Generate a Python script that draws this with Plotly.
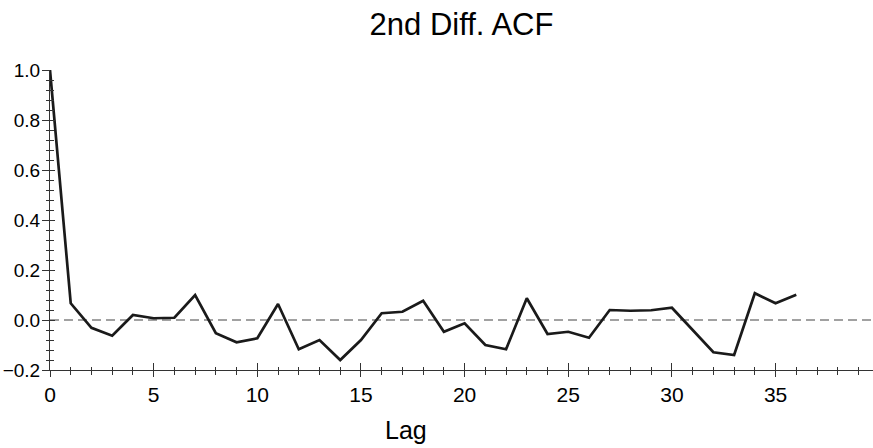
import plotly.graph_objects as go

# Autocorrelation of the twice-differenced series, lags 0..36
lags = list(range(37))
acf = [1.0, 0.067, -0.031, -0.063, 0.020, 0.007, 0.009, 0.100, -0.053, -0.089,
       -0.073, 0.064, -0.117, -0.080, -0.160, -0.080, 0.027, 0.033, 0.077, -0.047,
       -0.013, -0.100, -0.117, 0.087, -0.056, -0.047, -0.071, 0.040, 0.037, 0.039,
       0.049, -0.040, -0.129, -0.140, 0.107, 0.067, 0.101]

title_text = "2nd Diff. ACF"
x_title = "Lag"
x_range = [0, 39.7]
y_range = [-0.2, 1.0]

FONT = "Liberation Sans, Arial, sans-serif"
AXIS_COLOR = "#333333"

fig = go.Figure()

fig.add_trace(go.Scatter(
    x=lags, y=acf, mode="lines",
    line=dict(color="#1a1a1a", width=2.7),
    hoverinfo="x+y", showlegend=False,
))

# invisible companion trace so the overlaid axes (inner tick halves) render
fig.add_trace(go.Scatter(
    x=lags, y=acf, mode="lines", xaxis="x2", yaxis="y2",
    line=dict(width=0), opacity=0, hoverinfo="skip", showlegend=False,
))

# dashed zero reference line
fig.add_shape(type="line", xref="paper", x0=0, x1=1, yref="y", y0=0, y1=0,
              line=dict(color="#444444", width=1.2, dash="9px,5px"), layer="below")

common_x = dict(range=x_range, showgrid=False, zeroline=False,
                showline=True, linecolor=AXIS_COLOR, linewidth=1,
                tickcolor=AXIS_COLOR, tickwidth=1, tick0=0, dtick=5)
common_y = dict(range=y_range, showgrid=False, zeroline=False,
                showline=True, linecolor=AXIS_COLOR, linewidth=1,
                tickcolor=AXIS_COLOR, tickwidth=1, tick0=0, dtick=0.2)

fig.update_layout(
    width=873, height=448,
    margin=dict(l=50, r=0, t=70, b=78),
    paper_bgcolor="white", plot_bgcolor="white",
    font=dict(family=FONT, color="black"),
    title=dict(text=title_text, x=0.5, xref="paper", xanchor="center",
               y=0.945, yref="container", yanchor="middle",
               font=dict(size=31, family=FONT, color="black")),
    xaxis=dict(**common_x, ticks="outside", ticklen=6,
               tickfont=dict(size=21, family=FONT, color="black"),
               minor=dict(dtick=1, ticks="outside", ticklen=4,
                          tickcolor=AXIS_COLOR, tickwidth=1)),
    # outer halves of the y ticks (labels come from the inner axis below)
    yaxis=dict(**common_y, ticks="outside", ticklen=7, showticklabels=False,
               minor=dict(dtick=0.04, ticks="outside", ticklen=3,
                          tickcolor=AXIS_COLOR, tickwidth=1)),
    xaxis2=dict(**common_x, overlaying="x", anchor="y2", side="bottom",
                ticks="inside", ticklen=7, showticklabels=False,
                minor=dict(dtick=1, ticks="inside", ticklen=3,
                           tickcolor=AXIS_COLOR, tickwidth=1)),
    yaxis2=dict(**common_y, overlaying="y", anchor="x2", side="left",
                ticks="inside", ticklen=5, tickformat=".1f",
                showticklabels=True, ticklabelstandoff=5,
                tickfont=dict(size=19, family=FONT, color="black"),
                minor=dict(dtick=0.04, ticks="inside", ticklen=4,
                           tickcolor=AXIS_COLOR, tickwidth=1)),
    annotations=[dict(text=x_title, xref="paper", yref="paper",
                      x=(406 - 50) / 823, y=-0.2, xanchor="center", yanchor="middle",
                      showarrow=False,
                      font=dict(size=25, family=FONT, color="black"))],
)

fig.write_html("out.html")
